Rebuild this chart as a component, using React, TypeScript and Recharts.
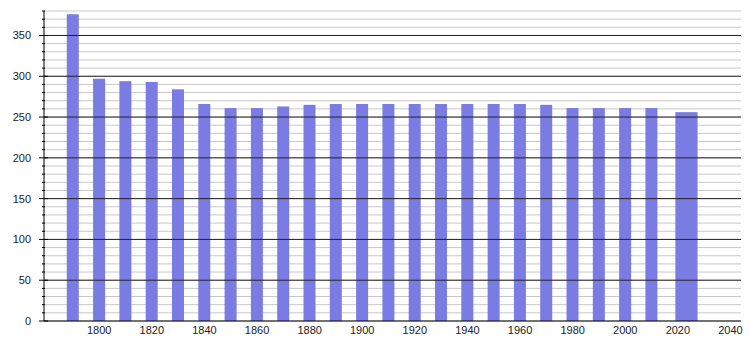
import React from "react";
import { BarChart, Bar, XAxis, YAxis, CartesianGrid, ReferenceLine } from "recharts";

const years = [1790, 1800, 1810, 1820, 1830, 1840, 1850, 1860, 1870, 1880, 1890, 1900, 1910, 1920, 1930, 1940, 1950, 1960, 1970, 1980, 1990, 2000, 2010, 2021];
const population = [376, 297, 294, 293, 284, 266, 261, 261, 263, 265, 266, 266, 266, 266, 266, 266, 266, 266, 265, 261, 261, 261, 261, 256];

const xTicks = [1800, 1820, 1840, 1860, 1880, 1900, 1920, 1940, 1960, 1980, 2000, 2020, 2040];
const yMinorTicks = [0, 10, 20, 30, 40, 50, 60, 70, 80, 90, 100, 110, 120, 130, 140, 150, 160, 170, 180, 190, 200, 210, 220, 230, 240, 250, 260, 270, 280, 290, 300, 310, 320, 330, 340, 350, 360, 370, 380];
const yMajorTicks = [50, 100, 150, 200, 250, 300, 350];

const data = years.map((y, i) => ({ year: y, value: population[i] }));

const FONT = "'Liberation Sans', Arial, sans-serif";

const YTick = (props: any) => {
  const { x, y, payload } = props;
  const v = payload.value;
  const major = v % 50 === 0;
  const axisX = x;
  return (
    <g>
      {major ? (
        <>
          <line x1={axisX - 5} x2={axisX + 4} y1={y} y2={y} stroke="#000" strokeWidth={1} />
          <text x={axisX - 13} y={y} dy={4} textAnchor="end" fontSize={11} fontFamily={FONT} fill="#222">
            {v}
          </text>
        </>
      ) : (
        <line x1={axisX - 2} x2={axisX + 1} y1={y} y2={y} stroke="#000" strokeWidth={1} />
      )}
    </g>
  );
};

const BarShape = (props: any) => {
  const { x, y, width, height, index, fill } = props;
  const last = index === years.length - 1;
  const w = last ? width * 1.85 : width;
  const nx = last ? x + 1 : x;
  return <rect x={nx} y={y} width={w} height={height} fill={fill} />;
};

export default function App() {
  return (
    <div style={{ position: "absolute", left: 0, top: 0 }}>
      <BarChart width={750} height={340} data={data} margin={{ top: 11, right: 9, bottom: 0, left: 0 }}>
        <CartesianGrid vertical={false} stroke="#c8c8c8" horizontalValues={yMinorTicks} />
        {yMajorTicks.map((t) => (
          <ReferenceLine key={t} y={t} stroke="#222" strokeWidth={1} ifOverflow="extendDomain" />
        ))}
        <XAxis
          dataKey="year"
          type="number"
          domain={[1779, 2044]}
          ticks={xTicks}
          tickLine={false}
          axisLine={{ stroke: "#000" }}
          height={19}
          interval={0}
          tick={{ fontSize: 11, fontFamily: FONT, fill: "#222" }}
          tickMargin={0}
          dy={-1}
        />
        <YAxis
          type="number"
          domain={[0, 380]}
          ticks={yMinorTicks}
          interval={0}
          width={44}
          tickLine={false}
          tickSize={0}
          tickMargin={0}
          axisLine={{ stroke: "#000" }}
          tick={<YTick />}
        />
        <Bar dataKey="value" fill="#7b7be4" barSize={12} isAnimationActive={false} shape={<BarShape />} />
      </BarChart>
    </div>
  );
}
